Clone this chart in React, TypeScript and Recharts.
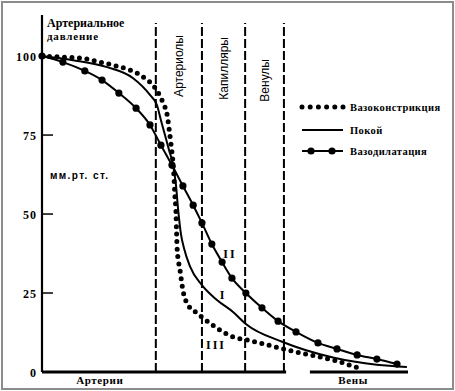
import React from 'react';
import { LineChart, Line, XAxis, YAxis, ReferenceLine } from 'recharts';

// Vasoconstriction (III)
const vasoconstriction = [
  { x: 0, y: 100 }, { x: 4.9, y: 99.7 }, { x: 10.4, y: 99.4 }, { x: 15.8, y: 98.1 },
  { x: 20.5, y: 96.8 }, { x: 24.0, y: 95.6 }, { x: 28.1, y: 93.0 }, { x: 30.9, y: 89.9 },
  { x: 33.1, y: 85.1 }, { x: 34.2, y: 81.3 }, { x: 34.7, y: 77.2 }, { x: 35.2, y: 72.5 },
  { x: 35.8, y: 66.1 }, { x: 36.1, y: 60.8 }, { x: 36.3, y: 56.0 }, { x: 36.6, y: 50.6 },
  { x: 36.75, y: 44.9 }, { x: 36.95, y: 38.6 }, { x: 37.7, y: 32.3 }, { x: 38.5, y: 25.9 },
  { x: 39.9, y: 21.2 }, { x: 42.3, y: 18.7 }, { x: 44.0, y: 17.1 }, { x: 47.8, y: 13.9 },
  { x: 52.2, y: 11.1 }, { x: 55.7, y: 10.2 }, { x: 60.1, y: 9.0 }, { x: 66.9, y: 7.0 },
  { x: 73.2, y: 5.4 }, { x: 79.5, y: 3.8 }, { x: 86.1, y: 1.4 },
];

// Rest (I)
const rest = [
  { x: 0, y: 100 }, { x: 8.5, y: 98.7 }, { x: 17.8, y: 96.5 }, { x: 24.9, y: 93.0 },
  { x: 29.5, y: 87.7 }, { x: 31.4, y: 84.5 }, { x: 32.5, y: 79.7 }, { x: 33.6, y: 75.0 },
  { x: 34.7, y: 70.3 }, { x: 35.8, y: 65.5 }, { x: 36.6, y: 59.2 }, { x: 37.2, y: 51.3 },
  { x: 38.0, y: 43.4 }, { x: 38.8, y: 39.2 }, { x: 40.4, y: 33.5 }, { x: 43.7, y: 27.5 },
  { x: 47.8, y: 22.8 }, { x: 52.2, y: 19.0 }, { x: 55.7, y: 15.2 }, { x: 65.8, y: 9.5 },
  { x: 79.5, y: 4.6 }, { x: 91.5, y: 2.3 }, { x: 99.7, y: 1.6 },
];

// Vasodilatation (II)
const vasodilatation = [
  { x: 0, y: 100 }, { x: 5.7, y: 98.1 }, { x: 11.7, y: 95.3 }, { x: 16.4, y: 92.4 },
  { x: 21.0, y: 88.3 }, { x: 25.7, y: 83.5 }, { x: 29.5, y: 78.2 }, { x: 32.5, y: 71.8 },
  { x: 35.5, y: 65.5 }, { x: 38.5, y: 58.9 }, { x: 41.3, y: 52.8 }, { x: 43.7, y: 47.2 },
  { x: 46.4, y: 40.5 }, { x: 49.2, y: 34.8 }, { x: 51.9, y: 29.7 }, { x: 55.7, y: 25.0 },
  { x: 60.1, y: 20.3 }, { x: 64.5, y: 16.1 }, { x: 69.4, y: 12.7 }, { x: 75.4, y: 9.2 },
  { x: 80.6, y: 7.3 }, { x: 86.1, y: 5.4 }, { x: 91.5, y: 4.1 }, { x: 97.0, y: 2.5 },
];

const yTicks = [0, 25, 50, 75, 100];
const xTicks = [15.8, 85];
const xTickLabels = ['Артерии', 'Вены'];
const zoneBoundaries = [31.1, 43.7, 55.5, 66.1];
const zoneLabels = ['Артериолы', 'Капилляры', 'Венулы'];
const seriesNames = ['Вазоконстрикция', 'Покой', 'Вазодилатация'];
const curveMarks = ['II', 'I', 'III'];
const yTitle = ['Артериальное', 'давление'];
const unitLabel = 'мм.рт. ст.';

const SERIF = '"Liberation Serif", "Times New Roman", serif';
const SANS = '"Liberation Sans", Arial, sans-serif';

const YTick = (props: any) => {
  const { x, y, payload } = props;
  return (
    <g>
      {payload.value !== 0 && payload.value !== 100 ? (
        <line x1={x} x2={x + 11} y1={y} y2={y} stroke="#000" strokeWidth={1.5} />
      ) : null}
      <text
        x={x - 5}
        y={y + 1}
        textAnchor="end"
        dominantBaseline="central"
        fontFamily={SERIF}
        fontWeight="bold"
        fontSize={12}
        letterSpacing={1}
        fill="#000"
      >
        {payload.value}
      </text>
    </g>
  );
};

const XTick = (props: any) => {
  const { x, y, payload } = props;
  const idx = xTicks.indexOf(payload.value);
  return (
    <text
      x={x}
      y={y}
      textAnchor="middle"
      dominantBaseline="hanging"
      fontFamily={SERIF}
      fontWeight="bold"
      fontSize={11}
      letterSpacing={0.6}
      fill="#000"
    >
      {xTickLabels[idx]}
    </text>
  );
};

const DilDot = (props: any) => {
  const { cx, cy } = props;
  return <circle cx={cx} cy={cy} r={3.6} fill="#000" stroke="none" />;
};

export default function App() {
  const zoneCentersPx = [179, 223.5, 264.5];
  const zoneTopsPx = [35, 37, 59];
  return (
    <div style={{ position: 'absolute', left: 0, top: 0, width: 455, height: 391, background: '#fff' }}>
      <div
        style={{
          position: 'absolute',
          left: 1,
          top: 1,
          width: 449,
          height: 385,
          border: '2px solid #8c8c8c',
        }}
      />
      <div style={{ position: 'absolute', left: 0, top: 0 }}>
        <LineChart width={455} height={391} margin={{ top: 15, right: 47, bottom: 0, left: 0 }}>
          <XAxis
            type="number"
            dataKey="x"
            domain={[0, 100]}
            ticks={xTicks}
            axisLine={false}
            tickLine={false}
            tickSize={0}
            tickMargin={4}
            height={19}
            tick={<XTick />}
            interval={0}
          />
          <YAxis
            type="number"
            domain={[0, 113]}
            ticks={yTicks}
            width={42}
            axisLine={{ stroke: '#000', strokeWidth: 2.2 }}
            tickLine={false}
            tickSize={0}
            tickMargin={0}
            tick={<YTick />}
            interval={0}
            allowDataOverflow
          />
          {zoneBoundaries.map((b) => (
            <ReferenceLine
              key={b}
              segment={[{ x: b, y: 0 }, { x: b, y: 110.5 }]}
              stroke="#000"
              strokeWidth={2}
              strokeDasharray="9 3"
            />
          ))}
          <ReferenceLine segment={[{ x: 0, y: 0 }, { x: 66.7, y: 0 }]} stroke="#000" strokeWidth={3} />
          <ReferenceLine segment={[{ x: 73.2, y: 0 }, { x: 100, y: 0 }]} stroke="#000" strokeWidth={3} />
          <Line
            data={rest}
            dataKey="y"
            name={seriesNames[1]}
            type="monotone"
            stroke="#000"
            strokeWidth={2}
            dot={false}
            isAnimationActive={false}
          />
          <Line
            data={vasodilatation}
            dataKey="y"
            name={seriesNames[2]}
            type="monotone"
            stroke="#000"
            strokeWidth={2}
            dot={<DilDot />}
            isAnimationActive={false}
          />
          <Line
            data={vasoconstriction}
            dataKey="y"
            name={seriesNames[0]}
            type="monotone"
            stroke="#000"
            strokeWidth={5}
            strokeLinecap="round"
            strokeDasharray="0 7.5"
            dot={false}
            isAnimationActive={false}
          />

          {/* titles */}
          <text x={47} y={27} fontFamily={SERIF} fontWeight="bold" fontSize={12} fill="#000">
            {yTitle[0]}
          </text>
          <text x={47} y={40} fontFamily={SERIF} fontWeight="bold" fontSize={11} letterSpacing={0.8} fill="#000">
            {yTitle[1]}
          </text>
          <text x={50} y={179} fontFamily={SANS} fontWeight="bold" fontSize={10} letterSpacing={1.4} fill="#000">
            {unitLabel}
          </text>

          {zoneLabels.map((lab, i) => (
            <text
              key={lab}
              transform={`translate(${zoneCentersPx[i]}, ${zoneTopsPx[i]}) rotate(-90)`}
              textAnchor="end"
              dominantBaseline="central"
              fontFamily={SANS}
              fontSize={12}
              fill="#000"
            >
              {lab}
            </text>
          ))}

          {/* roman numerals */}
          <text x={230} y={258} textAnchor="middle" fontFamily={SERIF} fontWeight="bold" fontSize={12} letterSpacing={2} fill="#000">
            {curveMarks[0]}
          </text>
          <text x={222} y={299} textAnchor="middle" fontFamily={SERIF} fontWeight="bold" fontSize={12} fill="#000">
            {curveMarks[1]}
          </text>
          <text x={216} y={349} textAnchor="middle" fontFamily={SERIF} fontWeight="bold" fontSize={12} letterSpacing={2} fill="#000">
            {curveMarks[2]}
          </text>

          {/* legend */}
          <g>
            <line x1={302} x2={344} y1={107} y2={107} stroke="#000" strokeWidth={5} strokeLinecap="round" strokeDasharray="0 8.2" />
            <text x={350} y={107} dominantBaseline="central" fontFamily={SERIF} fontWeight="bold" fontSize={10.5} letterSpacing={0.4} fill="#000">
              {seriesNames[0]}
            </text>
            <line x1={302} x2={343} y1={130} y2={130} stroke="#000" strokeWidth={2.2} />
            <text x={350} y={130} dominantBaseline="central" fontFamily={SERIF} fontWeight="bold" fontSize={10.5} letterSpacing={0.4} fill="#000">
              {seriesNames[1]}
            </text>
            <line x1={302} x2={343} y1={151} y2={151} stroke="#000" strokeWidth={2} />
            <circle cx={311} cy={151} r={3.6} fill="#000" />
            <circle cx={332} cy={151} r={3.6} fill="#000" />
            <text x={350} y={151} dominantBaseline="central" fontFamily={SERIF} fontWeight="bold" fontSize={10.5} letterSpacing={0.4} fill="#000">
              {seriesNames[2]}
            </text>
          </g>
        </LineChart>
      </div>
    </div>
  );
}
